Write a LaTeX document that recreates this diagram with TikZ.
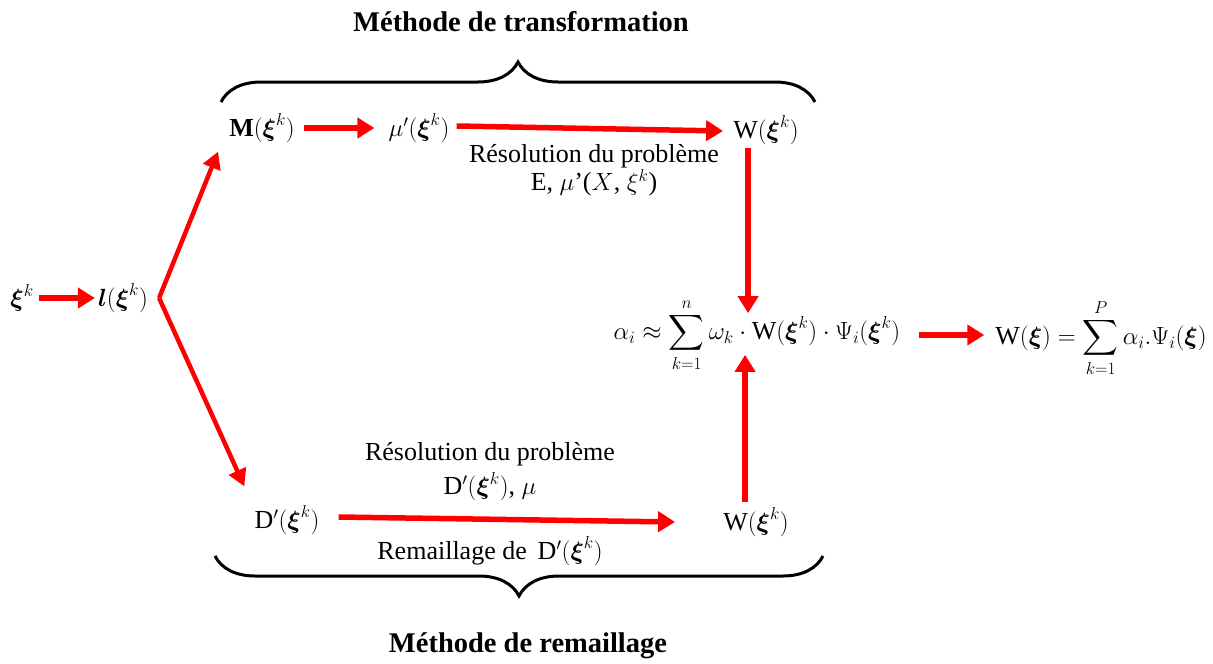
\documentclass[tikz,border=0pt]{standalone}
\usepackage{amsmath}
\usepackage{fontspec}
\setmainfont{Liberation Serif}
\usetikzlibrary{arrows.meta,decorations.pathreplacing,calc}
\begin{document}
\begin{tikzpicture}[x=1pt,y=-1pt,
  txt/.style={inner sep=1pt,font=\fontsize{26}{31}\selectfont\rmfamily},
  ttl/.style={inner sep=1pt,font=\fontsize{28.5}{33}\selectfont\rmfamily\bfseries},
  redarrow/.style={draw=red,line width=5.5pt,-{Triangle[length=17pt,width=20pt]}},
  diagarrow/.style={draw=red,line width=4.5pt,-{Triangle[length=17pt,width=18pt]}},
  bracestyle/.style={draw=black,line width=3pt,decorate,decoration={brace,amplitude=40pt,aspect=0.5}}]
\useasboundingbox (0,0) rectangle (1213,664);
% titles
\node[ttl] (t1) at (521,22) {Méthode de transformation};
\node[ttl] (t2) at (528,646) {Méthode de remaillage};
% braces
\coordinate (b1l) at (221,102);
\coordinate (b1r) at (815,102);
\draw[bracestyle] (b1l) -- (b1r);
\coordinate (b2l) at (215,556);
\coordinate (b2r) at (823,556);
\draw[bracestyle] (b2r) -- (b2l);
% nodes
\node[txt] (xi) at (22,298) {$\boldsymbol{\xi}^{k}$};
\node[txt] (l) at (123,298) {$\boldsymbol{l}(\boldsymbol{\xi}^{k})$};
\node[txt] (M) at (262,128) {$\mathbf{M}(\boldsymbol{\xi}^{k})$};
\node[txt] (mu) at (419,128) {$\mu'(\boldsymbol{\xi}^{k})$};
\node[txt] (W1) at (766,130) {$\mathrm{W}(\boldsymbol{\xi}^{k})$};
\node[txt,align=center] (res1) at (594,170) {Résolution du problème\\[-3pt]E, $\mu$'($X$, $\xi^{k}$)};
\node[txt] (form) at (757,335) {$\displaystyle \alpha_{i}\approx\sum_{k=1}^{n}\omega_{k}\cdot\mathrm{W}(\boldsymbol{\xi}^{k})\cdot\Psi_{i}(\boldsymbol{\xi}^{k})$};
\node[txt] (fin) at (1101,338) {$\displaystyle \mathrm{W}(\boldsymbol{\xi})=\sum_{k=1}^{P}\alpha_{i}.\Psi_{i}(\boldsymbol{\xi})$};
\node[txt] (D) at (287,520) {$\mathrm{D}'(\boldsymbol{\xi}^{k})$};
\node[txt] (W2) at (756,522) {$\mathrm{W}(\boldsymbol{\xi}^{k})$};
\node[txt,align=center] (res2) at (490,472) {Résolution du problème\\[3pt]$\mathrm{D}'(\boldsymbol{\xi}^{k})$, $\mu$};
\node[txt] (rem) at (490,551) {Remaillage de \,$\mathrm{D}'(\boldsymbol{\xi}^{k})$};
% connectors
\draw[redarrow] ($(xi.east)+(4,0)$) -- ($(l.west)+(-2,0)$);
\coordinate (lr) at ($(l.east)+(10,0)$);
\draw[diagarrow] (lr) -- ($(M.south west)+(-10,8)$);
\draw[diagarrow] (lr) -- ($(D.north west)+(-9,-18)$);
\draw[redarrow] ($(M.east)+(8,0)$) -- ($(mu.west)+(-13,0)$);
\draw[redarrow] ($(mu.east)+(6,-2)$) -- ($(W1.west)+(-9,1)$);
\draw[redarrow] ($(W1.south west)+(16,2)$) -- ($(W1.south west |- form.north)+(16,16)$);
\draw[redarrow] ($(W2.north west)+(23,-4)$) -- ($(W2.north west |- form.south)+(23,-18)$);
\draw[redarrow] ($(form.east)+(18,0)$) -- ($(fin.west)+(-10,-3)$);
\draw[redarrow] ($(D.east)+(18,-3)$) -- ($(W2.west)+(-47,0)$);
\end{tikzpicture}
\end{document}
